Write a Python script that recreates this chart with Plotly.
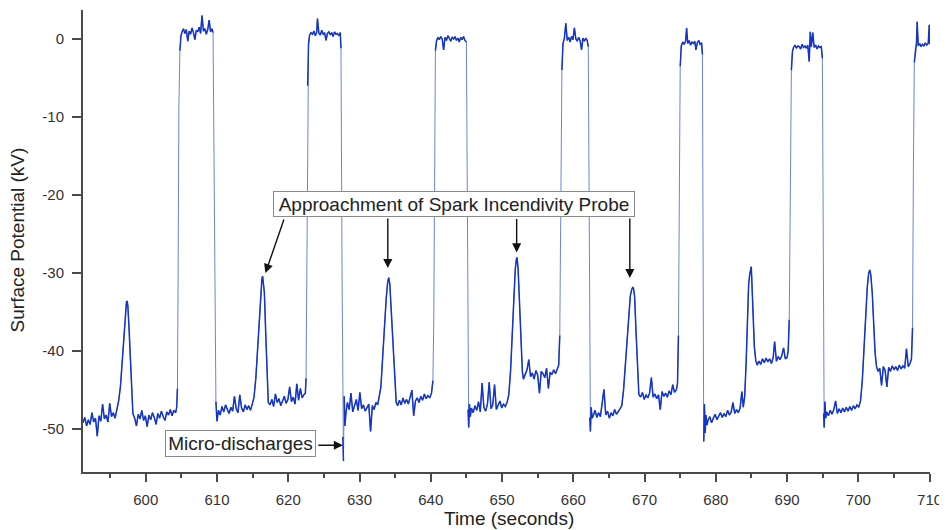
import plotly.graph_objects as go

# ---- data ----
t0 = [591.2, 591.45, 591.7, 591.95, 592.2, 592.45, 592.7, 592.95, 593.2, 593.45, 593.7, 593.95, 594.2, 594.45, 594.7, 594.95, 595.2, 595.45, 595.7, 595.95,
      596.2, 596.45, 596.7, 596.95, 597.15, 597.3, 597.4, 597.5, 597.65, 597.85, 598.05, 598.2,
      598.45, 598.7, 598.95, 599.2, 599.45, 599.7, 599.95, 600.2, 600.45, 600.7, 600.95, 601.2, 601.45, 601.7, 601.95, 602.2, 602.45, 602.7, 602.95, 603.2, 603.45, 603.7, 603.95, 604.2, 604.35, 604.45]
v0 = [-49.2, -48.5, -49.6, -48.8, -49.4, -47.9, -49.1, -48.6, -50.9, -48.3, -49.0, -46.8, -48.7, -48.2, -49.1, -46.7, -48.4, -47.9, -48.6, -47.4,
      -46.4, -44.6, -41.3, -37.0, -34.6, -33.7, -33.6, -34.3, -36.9, -41.0, -46.2, -48.0,
      -48.6, -49.6, -48.1, -48.7, -47.6, -48.9, -48.3, -49.7, -48.2, -48.8, -47.9, -48.5, -49.4, -48.0, -48.6, -47.7, -48.4, -48.9, -47.8, -48.2, -47.5, -48.3, -47.6, -47.9, -47.2, -44.8]

t1 = [604.55, 604.65, 604.8, 604.95, 605.1, 605.3, 605.5, 605.7, 605.9, 606.1, 606.3, 606.5, 606.7, 606.9, 607.1, 607.3, 607.5, 607.7, 607.9, 608.1, 608.3, 608.5, 608.7, 608.9, 609.1, 609.3, 609.45, 609.55, 609.7, 609.85, 610.0]
v1 = [-30.0, -9.0, -1.5, 0.4, 0.9, 1.3, 0.7, 1.2, -0.3, 1.0, 0.6, 1.4, 0.8, -0.1, 1.1, 0.9, 1.5, 0.7, 3.0, 1.0, 1.3, 0.6, 1.2, 2.4, 0.9, 1.3, 0.8, -12.0, -38.0, -46.5, -49.0]

t2 = [610.2, 610.45, 610.7, 610.95, 611.2, 611.45, 611.7, 611.95, 612.2, 612.45, 612.7, 612.95, 613.2, 613.45, 613.7, 613.95, 614.2, 614.45, 614.7, 614.95,
      615.2, 615.45, 615.7, 615.95, 616.15, 616.3, 616.4, 616.5, 616.65, 616.85, 617.05, 617.2,
      617.45, 617.7, 617.95, 618.2, 618.45, 618.7, 618.95, 619.2, 619.45, 619.7, 619.95, 620.2, 620.45, 620.7, 620.95, 621.2, 621.45, 621.7, 621.95, 622.2, 622.4, 622.5]
v2 = [-47.6, -48.2, -47.1, -47.8, -46.9, -47.5, -48.0, -47.2, -47.7, -45.8, -47.4, -47.9, -45.6, -47.3, -47.8, -46.9, -47.5, -47.0, -47.6, -46.8,
      -45.9, -43.5, -39.8, -35.4, -32.2, -30.8, -30.4, -31.2, -32.5, -38.0, -44.5, -46.6,
      -46.9, -46.2, -47.1, -45.5, -46.6, -46.1, -47.0, -46.4, -45.8, -46.7, -46.2, -44.6, -46.5, -45.9, -46.8, -44.2, -46.3, -44.8, -46.0, -45.6, -45.4, -43.5]

t3 = [622.6, 622.72, 622.85, 623.0, 623.2, 623.4, 623.6, 623.8, 624.0, 624.1, 624.3, 624.5, 624.7, 624.9, 625.1, 625.3, 625.5, 625.7, 625.9, 626.1, 626.3, 626.5, 626.7, 626.9, 627.1, 627.3, 627.4, 627.55, 627.65, 627.75, 627.85, 627.95]
v3 = [-28.0, -6.0, -0.6, 0.5, 0.8, 0.6, 1.0, 0.4, 0.9, 2.6, 0.7, 0.5, 1.1, 0.6, 0.8, -0.2, 0.7, 0.9, 0.5, 0.8, 0.3, 0.9, 0.6, 0.7, 0.4, 0.8, -1.2, -30.0, -51.0, -54.1, -45.8, -49.6]

t4 = [628.1, 628.3, 628.55, 628.8, 629.05, 629.3, 629.55, 629.8, 630.05, 630.3, 630.55, 630.8, 631.05, 631.3, 631.55, 631.8, 632.05, 632.3, 632.55, 632.75,
      633.0, 633.25, 633.5, 633.75, 633.95, 634.1, 634.25, 634.45, 634.7, 634.95, 635.15, 635.35,
      635.6, 635.85, 636.1, 636.35, 636.6, 636.85, 637.1, 637.35, 637.6, 637.85, 638.1, 638.35, 638.6, 638.85, 639.1, 639.35, 639.6, 639.85, 640.1, 640.3, 640.42]
v4 = [-47.9, -46.6, -47.5, -45.4, -47.8, -47.1, -46.2, -47.6, -45.3, -47.4, -46.9, -47.7, -47.2, -46.8, -50.3, -47.0, -47.5, -46.6, -46.9, -45.9,
      -44.6, -40.8, -36.5, -33.2, -31.2, -30.6, -31.4, -35.0, -38.8, -44.3, -46.6, -47.0,
      -46.3, -46.9, -46.0, -46.7, -46.2, -46.8, -45.7, -45.0, -48.3, -46.4, -46.0, -46.6, -45.8, -46.3, -45.5, -46.1, -45.7, -46.0, -45.4, -43.8, -36.0]

t5 = [640.52, 640.65, 640.8, 641.0, 641.2, 641.4, 641.6, 641.8, 642.0, 642.2, 642.4, 642.6, 642.8, 643.0, 643.2, 643.4, 643.6, 643.8, 644.0, 644.2, 644.4, 644.6, 644.8, 645.0, 645.12, 645.22, 645.32, 645.42, 645.55]
v5 = [-12.0, -1.5, -0.3, 0.2, -0.1, 0.3, 0.0, -1.4, 0.2, -0.2, 0.4, 0.1, -0.3, 0.2, 0.0, 0.3, -0.2, 0.1, -0.4, 0.2, -0.1, 0.3, -0.2, -0.4, -20.0, -47.5, -49.8, -46.8, -48.4]

t6 = [645.7, 645.95, 646.2, 646.45, 646.7, 646.95, 647.2, 647.45, 647.7, 647.95, 648.2, 648.45, 648.7, 648.95, 649.2, 649.45, 649.7, 649.95, 650.2, 650.45, 650.7,
      650.95, 651.2, 651.45, 651.65, 651.85, 652.0, 652.1, 652.25, 652.45, 652.65, 652.85, 653.0,
      653.25, 653.5, 653.75, 654.0, 654.25, 654.5, 654.75, 655.0, 655.25, 655.5, 655.75, 656.0, 656.25, 656.5, 656.75, 657.0, 657.25, 657.5, 657.75, 657.95, 658.1, 658.25]
v6 = [-47.3, -47.9, -47.0, -47.6, -46.5, -47.8, -44.1, -47.2, -47.7, -46.8, -44.0, -47.4, -46.9, -44.3, -47.5, -47.0, -46.4, -47.3, -46.8, -47.1, -46.6,
      -45.6, -42.5, -37.5, -33.0, -29.6, -28.3, -28.0, -29.4, -34.5, -39.5, -42.6, -43.6,
      -43.0, -42.4, -41.1, -43.3, -42.8, -43.6, -42.5, -43.1, -45.4, -42.6, -42.9, -43.4, -42.2, -44.8, -42.7, -43.0, -42.4, -42.9, -42.3, -41.8, -38.0, -22.0]

t7 = [658.4, 658.55, 658.75, 658.95, 659.15, 659.35, 659.55, 659.75, 659.95, 660.15, 660.35, 660.55, 660.75, 660.95, 661.15, 661.35, 661.55, 661.75, 661.95, 662.1, 662.2, 662.3, 662.4, 662.5, 662.65]
v7 = [-4.0, -0.6, 0.1, 2.0, -0.2, 0.2, -0.4, 0.3, -0.1, 1.4, 0.0, -0.3, 0.2, -0.2, -1.4, 0.1, -0.3, 0.1, -0.2, -1.0, -26.0, -48.5, -50.3, -47.2, -48.6]

t8 = [662.8, 663.05, 663.3, 663.55, 663.8, 664.05, 664.3, 664.55, 664.8, 665.05, 665.3, 665.55, 665.8, 666.05, 666.3, 666.55, 666.8,
      667.05, 667.3, 667.55, 667.8, 668.0, 668.2, 668.35, 668.45, 668.6, 668.8, 669.0, 669.2,
      669.45, 669.7, 669.95, 670.2, 670.45, 670.7, 670.95, 671.2, 671.45, 671.7, 671.95, 672.2, 672.45, 672.7, 672.95, 673.2, 673.45, 673.7, 673.95, 674.2, 674.45, 674.62, 674.75, 674.88]
v8 = [-48.3, -47.6, -48.5, -47.9, -48.4, -46.6, -44.9, -48.2, -47.7, -48.6, -47.9, -48.3, -47.5, -48.1, -47.8, -47.4, -47.0,
      -45.0, -41.8, -38.2, -34.8, -32.9, -32.1, -31.8, -32.0, -33.0, -37.5, -42.5, -45.6,
      -45.9, -45.3, -46.2, -45.6, -46.0, -45.4, -43.4, -45.9, -45.5, -46.1, -45.6, -47.5, -45.2, -45.8, -45.4, -45.9, -45.1, -45.6, -44.3, -45.3, -45.0, -44.2, -38.0, -18.0]

t9 = [675.0, 675.15, 675.35, 675.55, 675.75, 675.9, 676.05, 676.25, 676.45, 676.65, 676.85, 677.05, 677.2, 677.4, 677.6, 677.8, 678.0, 678.12, 678.22, 678.3, 678.4, 678.5, 678.62, 678.75]
v9 = [-3.5, -0.9, -0.4, -0.7, -0.3, 1.4, -0.6, -0.2, -0.8, -0.4, -0.6, -0.3, -1.4, -0.5, -0.2, -0.7, -0.5, -2.0, -32.0, -51.6, -46.8, -50.5, -48.2, -49.5]

t10 = [678.9, 679.15, 679.4, 679.65, 679.9, 680.15, 680.4, 680.65, 680.9, 681.15, 681.4, 681.65, 681.9, 682.15, 682.4, 682.65, 682.9, 683.15, 683.4, 683.65, 683.85,
       684.05, 684.25, 684.45, 684.6, 684.75, 684.88, 684.97, 685.05, 685.2, 685.4, 685.6, 685.8,
       686.05, 686.3, 686.55, 686.8, 687.05, 687.3, 687.55, 687.8, 688.05, 688.25, 688.5, 688.75, 689.0, 689.25, 689.5, 689.75, 690.0, 690.15, 690.3, 690.45]
v10 = [-48.9, -48.4, -49.2, -48.6, -48.1, -48.8, -48.3, -47.9, -48.5, -48.0, -48.4, -47.6, -48.2, -47.8, -46.6, -48.0, -47.5, -47.9, -47.3, -45.2, -47.2,
       -45.8, -41.5, -34.5, -31.5, -30.2, -29.8, -29.2, -31.0, -34.7, -39.4, -41.2, -41.8,
       -41.3, -41.7, -41.0, -41.5, -40.9, -41.4, -41.0, -41.6, -40.8, -38.8, -41.3, -40.7, -41.1, -40.6, -39.6, -41.0, -40.8, -40.0, -36.0, -18.0]

t11 = [690.6, 690.75, 690.9, 691.1, 691.3, 691.5, 691.7, 691.9, 692.1, 692.3, 692.5, 692.7, 692.9, 693.1, 693.25, 693.4, 693.6, 693.8, 694.0, 694.2, 694.4, 694.6, 694.8, 694.95, 695.05, 695.12, 695.2, 695.3, 695.42]
v11 = [-4.0, -1.6, -1.1, -0.8, -1.2, -0.9, -1.0, -1.3, -0.7, -1.1, -0.9, -1.2, -0.8, -2.9, 0.9, -1.0, 0.8, -1.1, -0.8, -1.3, -0.9, -1.1, -1.0, -2.5, -26.0, -48.0, -49.8, -46.5, -48.6]

t12 = [695.55, 695.8, 696.05, 696.3, 696.55, 696.8, 697.05, 697.3, 697.55, 697.8, 698.05, 698.3, 698.55, 698.8, 699.05, 699.3, 699.55, 699.8, 700.05, 700.3,
       700.55, 700.8, 701.05, 701.25, 701.45, 701.6, 701.75, 701.95, 702.15, 702.35, 702.55, 702.75,
       703.0, 703.25, 703.5, 703.75, 704.0, 704.25, 704.5, 704.75, 705.0, 705.25, 705.5, 705.75, 706.0, 706.25, 706.5, 706.75, 707.0, 707.25, 707.45, 707.6, 707.72]
v12 = [-47.8, -48.3, -47.6, -48.1, -47.5, -46.4, -48.0, -47.4, -47.9, -47.3, -47.8, -47.2, -47.7, -47.1, -47.6, -47.0, -47.4, -46.9, -47.2, -46.4,
       -43.8, -39.5, -35.0, -31.8, -30.0, -29.6, -30.3, -32.6, -36.5, -40.3, -42.0, -42.6,
       -42.2, -44.4, -42.0, -42.5, -44.6, -42.1, -42.6, -41.9, -42.4, -42.0, -42.5, -41.8, -42.3, -41.9, -42.2, -39.7, -42.0, -41.6, -41.0, -37.0, -17.0]

t13 = [707.85, 708.0, 708.15, 708.25, 708.4, 708.6, 708.8, 709.0, 709.2, 709.4, 709.6, 709.8, 709.95, 710.05]
v13 = [-3.0, -1.2, -0.6, 2.2, -0.9, -0.6, -1.0, -0.7, -0.9, -0.5, -0.8, -0.6, 1.8, -0.7]

time_segments = [t0, t1, t2, t3, t4, t5, t6, t7, t8, t9, t10, t11, t12, t13]
value_segments = [v0, v1, v2, v3, v4, v5, v6, v7, v8, v9, v10, v11, v12, v13]

x_ticks = [600, 610, 620, 630, 640, 650, 660, 670, 680, 690, 700, 710]
x_tick_text = ["600", "610", "620", "630", "640", "650", "660", "670", "680", "690", "700", "710"]
y_ticks = [0, -10, -20, -30, -40, -50]
y_tick_text = ["0", "-10", "-20", "-30", "-40", "-50"]

probe_label = "Approachment of Spark Incendivity Probe"
probe_peaks_t = [616.8, 633.97, 652.05, 667.93]
probe_peaks_v = [-30.0, -29.36, -27.36, -30.64]
discharge_label = "Micro-discharges"
discharge_t, discharge_v = 627.67, -52.07

# ---- build ----
time_all, volt_all = [], []
for ts, vs in zip(time_segments, value_segments):
    assert len(ts) == len(vs), (ts[0], len(ts), len(vs))
    time_all += ts
    volt_all += vs

# dense (noisy) parts drawn darker; the steep switching edges stay thin and light
dense_t, dense_v = [], []
for i, (tt, vv) in enumerate(zip(time_all, volt_all)):
    if i > 0 and abs(vv - volt_all[i - 1]) > 7.2:
        dense_t.append(None)
        dense_v.append(None)
    dense_t.append(tt)
    dense_v.append(vv)

FONT = "Arial, Liberation Sans, Helvetica, sans-serif"
fig = go.Figure()
fig.add_trace(go.Scatter(x=time_all, y=volt_all, mode="lines",
                         line=dict(color="#6b84d8", width=1),
                         hoverinfo="skip", showlegend=False))
fig.add_trace(go.Scatter(x=dense_t, y=dense_v, mode="lines", connectgaps=False,
                         line=dict(color="#1435c8", width=1.5),
                         hoverinfo="skip", showlegend=False))

annotations = []
annotations.append(dict(x=643.2, y=-21.13, xref="x", yref="y", text=probe_label,
                        showarrow=False, font=dict(family=FONT, size=19, color="#222222"),
                        bgcolor="white", bordercolor="#8a8a8a", borderwidth=1, borderpad=0,
                        width=360, height=24))
tails_px = [(19, -55), (0, -51), (0, -35), (0, -61)]
for (tx, ty), (ax, ay) in zip(zip(probe_peaks_t, probe_peaks_v), tails_px):
    annotations.append(dict(x=tx, y=ty, xref="x", yref="y", text="", showarrow=True,
                            ax=ax, ay=ay, arrowhead=2, arrowsize=1.3, arrowwidth=1.4,
                            arrowcolor="#111111", standoff=0, startstandoff=0))
annotations.append(dict(x=613.23, y=-51.79, xref="x", yref="y", text=discharge_label,
                        showarrow=False, font=dict(family=FONT, size=19, color="#222222"),
                        bgcolor="white", bordercolor="#8a8a8a", borderwidth=1, borderpad=0,
                        width=149, height=25))
annotations.append(dict(x=discharge_t, y=discharge_v, xref="x", yref="y", text="", showarrow=True,
                        ax=-26, ay=0, arrowhead=2, arrowsize=1.3, arrowwidth=1.4,
                        arrowcolor="#111111", standoff=0, startstandoff=0))
# axis titles
annotations.append(dict(x=-0.0775, y=0.502, xref="paper", yref="paper", text="Surface Potential (kV)",
                        textangle=-90, showarrow=False, xanchor="center", yanchor="middle",
                        font=dict(family=FONT, size=19, color="#222222")))
annotations.append(dict(x=0.503, y=-0.1005, xref="paper", yref="paper", text="Time (seconds)",
                        showarrow=False, xanchor="center", yanchor="middle",
                        font=dict(family=FONT, size=19, color="#222222")))

axis_color = "#4a4a4a"
# the page body has an 8px margin, so the figure is 8px smaller than the window
fig.update_layout(
    width=939, height=522,
    margin=dict(l=75, r=17, t=2, b=58, autoexpand=False),
    paper_bgcolor="white", plot_bgcolor="white",
    font=dict(family=FONT, color="#333333"),
    annotations=annotations,
    xaxis=dict(range=[591.2, 710.05], tickvals=x_ticks, ticktext=x_tick_text, ticks="outside", ticklen=8,
               tickwidth=1.5, tickcolor=axis_color, showline=True, linecolor=axis_color,
               linewidth=2, showgrid=False, zeroline=False, automargin=False,
               ticklabelstandoff=5,
               tickfont=dict(size=15, color="#333333"),
               minor=dict(dtick=5, tick0=0, ticks="outside", ticklen=4, tickwidth=1.5,
                          tickcolor=axis_color, showgrid=False)),
    yaxis=dict(range=[-55.5, 3.7], tickvals=y_ticks, ticktext=y_tick_text, ticks="outside", ticklen=9,
               tickwidth=1.5, tickcolor=axis_color, showline=True, linecolor=axis_color,
               linewidth=2, showgrid=False, zeroline=False, automargin=False,
               ticklabelstandoff=5,
               tickfont=dict(size=15, color="#333333")),
)

fig.write_html("out.html")
